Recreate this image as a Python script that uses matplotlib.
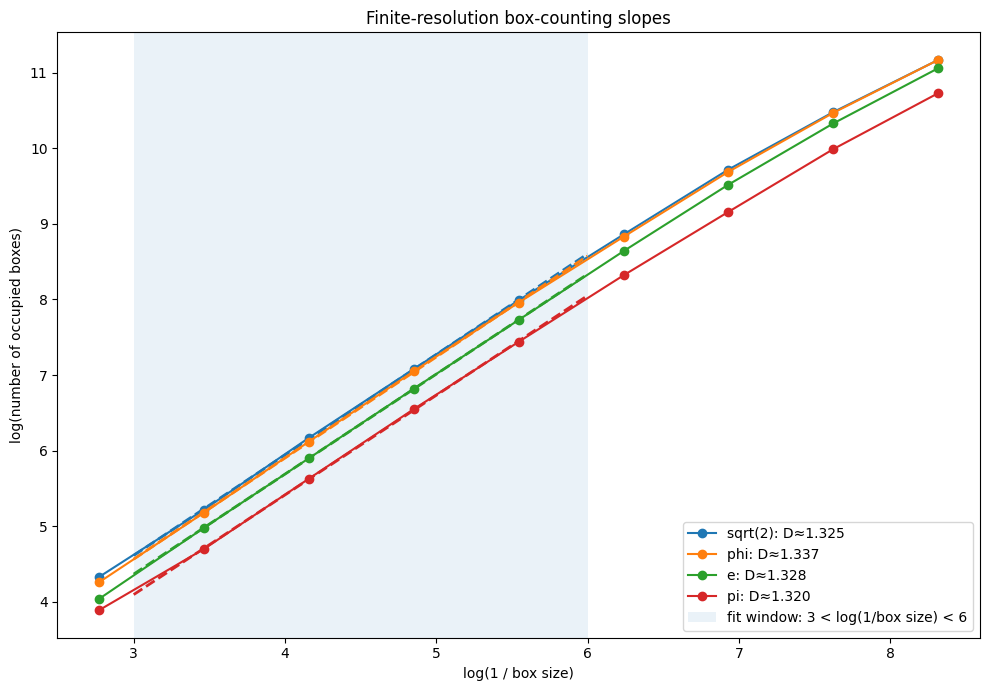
import matplotlib
matplotlib.use("Agg")
import matplotlib.pyplot as plt
import numpy as np

# log(1/box size) for box sizes 1/16 ... 1/4096
log_inv_eps = np.log(2.0 ** np.arange(4, 13))

names = ["sqrt(2)", "phi", "e", "pi"]
dims = [1.325, 1.337, 1.328, 1.320]
log_counts = {
    "sqrt(2)": [4.33, 5.22, 6.17, 7.08, 7.99, 8.86, 9.72, 10.48, 11.17],
    "phi":     [4.26, 5.18, 6.12, 7.05, 7.96, 8.83, 9.69, 10.47, 11.17],
    "e":       [4.04, 4.98, 5.90, 6.82, 7.73, 8.64, 9.52, 10.33, 11.06],
    "pi":      [3.89, 4.70, 5.63, 6.55, 7.44, 8.32, 9.16, 9.99, 10.73],
}
colors = ["tab:blue", "tab:orange", "tab:green", "tab:red"]

fit_lo, fit_hi = 3, 6

fig, ax = plt.subplots(figsize=(9.89, 6.9))

for name, d, c in zip(names, dims, colors):
    y = np.array(log_counts[name])
    ax.plot(log_inv_eps, y, "-o", color=c, label=f"{name}: D\u2248{d:.3f}")
    # least-squares line over the fit window
    m = (log_inv_eps > fit_lo) & (log_inv_eps < fit_hi)
    slope, icpt = np.polyfit(log_inv_eps[m], y[m], 1)
    xf = np.array([fit_lo, fit_hi])
    ax.plot(xf, slope * xf + icpt, "--", color=c, lw=2)

ax.axvspan(fit_lo, fit_hi, color="tab:blue", alpha=0.09, lw=0,
           label=f"fit window: {fit_lo} < log(1/box size) < {fit_hi}")

ax.set_xlabel("log(1 / box size)")
ax.set_ylabel("log(number of occupied boxes)")
ax.set_title("Finite-resolution box-counting slopes")
ax.legend(loc="lower right")

fig.subplots_adjust(left=0.058, right=0.991, top=0.953, bottom=0.076)
fig.savefig("out.png", dpi=100)
